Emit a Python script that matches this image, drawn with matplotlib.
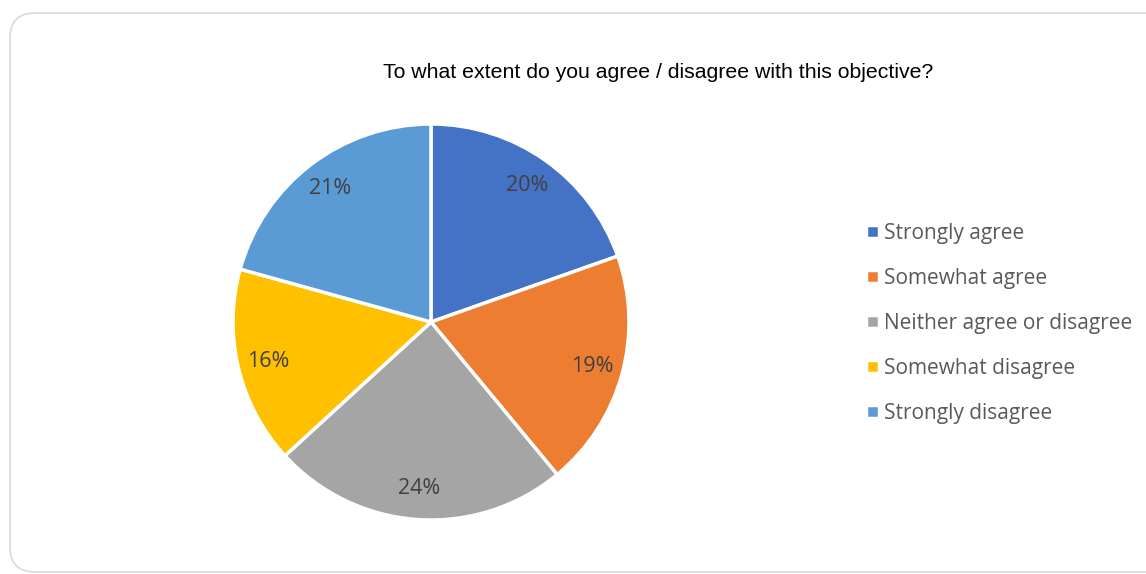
import matplotlib.pyplot as plt
from matplotlib.patches import FancyBboxPatch

categories = ["Strongly agree", "Somewhat agree", "Neither agree or disagree",
              "Somewhat disagree", "Strongly disagree"]
shares = [19.6, 19.4, 24.2, 16.1, 20.7]
colors = ["#4472C4", "#ED7D31", "#A5A5A5", "#FFC000", "#5B9BD5"]
title = "To what extent do you agree / disagree with this objective?"

W, H = 1146, 574
fig = plt.figure(figsize=(W / 100, H / 100), dpi=100)

# rounded chart border
box = FancyBboxPatch((0.10, 0.02), 11.7, 5.59,
                     boxstyle="round,pad=0,rounding_size=0.25",
                     transform=fig.dpi_scale_trans, facecolor="none",
                     edgecolor="#D9D9D9", linewidth=1.2, zorder=-1)
fig.patches.append(box)

cx, cy, r = 431, 322, 198
ax = fig.add_axes([(cx - r) / W, (H - cy - r) / H, 2 * r / W, 2 * r / H])
wedges, texts, autotexts = ax.pie(
    shares, colors=colors, startangle=90, counterclock=False,
    autopct="%.0f%%", pctdistance=0.845,
    wedgeprops=dict(edgecolor="white", linewidth=2.5),
    textprops=dict(color="#404040", fontsize=15.5, family="Open Sans"))
ax.set_xlim(-1, 1)
ax.set_ylim(-1, 1)

fig.text(658 / W, 1 - 72 / H, title, ha="center", va="center",
         fontsize=15.3, family="Liberation Sans", color="black")

fig.legend(wedges, categories, loc="upper left",
           bbox_to_anchor=(866 / W, 1 - 223 / H), frameon=False,
           prop=dict(family="Open Sans", size=15), labelcolor="#595959",
           handlelength=0.6, handleheight=0.6, handletextpad=0.25,
           labelspacing=1.15, borderpad=0, borderaxespad=0)

fig.savefig("out.png", dpi=100)
